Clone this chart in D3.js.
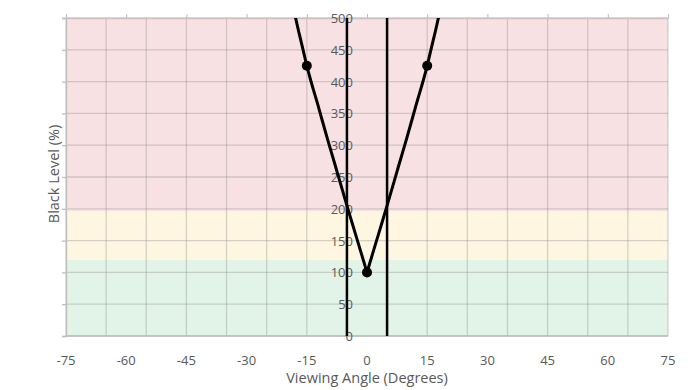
<!DOCTYPE html>
<html>
<head>
<meta charset="utf-8">
<script src="https://cdn.jsdelivr.net/npm/d3@7"></script>
<style>
  body { margin: 0; background: #fff; }
  svg text { font-family: "Open Sans", "DejaVu Sans", sans-serif; fill: #595959; }
</style>
</head>
<body>
<div id="chart"></div>
<script>
var width = 694, height = 390;
var margin = { top: 18, right: 26, bottom: 54, left: 66 };

// x tick labels and y tick labels
var xTicks = [-75, -60, -45, -30, -15, 0, 15, 30, 45, 60, 75];
var yTicks = [0, 50, 100, 150, 200, 250, 300, 350, 400, 450, 500];
var xGrid = [-75, -65, -55, -45, -35, -25, -15, -5, 5, 15, 25, 35, 45, 55, 65, 75];

// coloured zones (black level %)
var zoneNames = ["good", "ok", "bad"];
var zoneLow = [0, 120, 196];
var zoneHigh = [120, 196, 500];
var zoneColors = ["#e2f4e7", "#fff6e1", "#f8e1e3"];

// fitted curve, left and right branch
var leftAngle = [-18, -17, -16, -15, -12, -10, -8, -5, -3, 0];
var leftLevel = [506, 478, 452, 425, 358, 313, 270, 205, 163, 100];
var rightAngle = [0, 3, 5, 8, 10, 12, 15, 16, 17, 18];
var rightLevel = [100, 163, 205, 270, 313, 358, 425, 452, 478, 506];

// measured points
var pointAngle = [-15, 0, 15];
var pointLevel = [425, 100, 425];

// vertical reference lines
var refAngle = [-5, 5];

var w = width - margin.left - margin.right;
var h = height - margin.top - margin.bottom;

var svg = d3.select("#chart").append("svg")
  .attr("width", width)
  .attr("height", height);

var g = svg.append("g").attr("transform", "translate(" + margin.left + "," + margin.top + ")");

var xScale = d3.scaleLinear().domain([-75, 75]).range([0, w]);
var yScale = d3.scaleLinear().domain([0, 500]).range([h, 0]);

g.append("clipPath").attr("id", "plotclip")
  .append("rect").attr("width", w).attr("height", h);

// zones
g.selectAll(".zone").data(zoneNames).enter().append("rect")
  .attr("class", "zone")
  .attr("x", 0)
  .attr("width", w)
  .attr("y", function(d, i) { return yScale(zoneHigh[i]); })
  .attr("height", function(d, i) { return yScale(zoneLow[i]) - yScale(zoneHigh[i]); })
  .style("fill", function(d, i) { return zoneColors[i]; });

// grid
g.selectAll(".vgrid").data(xGrid).enter().append("line")
  .attr("x1", function(d) { return xScale(d); })
  .attr("x2", function(d) { return xScale(d); })
  .attr("y1", 0).attr("y2", h)
  .style("stroke", "rgba(140,140,140,0.36)")
  .style("stroke-width", 1.3);

g.selectAll(".hgrid").data(yTicks).enter().append("line")
  .attr("x1", 0).attr("x2", w)
  .attr("y1", function(d) { return yScale(d); })
  .attr("y2", function(d) { return yScale(d); })
  .style("stroke", "rgba(140,140,140,0.36)")
  .style("stroke-width", 1.3);

// left axis line + ticks
var yAxis = g.append("g")
  .call(d3.axisLeft(yScale).tickValues(yTicks).tickSize(4).tickFormat(""));
yAxis.select(".domain").attr("stroke", "#bdbdbd").attr("stroke-width", 1.3);
yAxis.selectAll(".tick line").attr("stroke", "#bdbdbd").attr("stroke-width", 1.3);

// top axis line + ticks
var topAxis = g.append("g")
  .call(d3.axisTop(xScale).tickValues(xTicks).tickSize(4).tickSizeOuter(0).tickFormat(""));
topAxis.select(".domain").attr("stroke", "#cbbfc1").attr("stroke-width", 1.3);
topAxis.selectAll(".tick line").attr("stroke", "#bdbdbd").attr("stroke-width", 1);

// bottom line
g.append("line")
  .attr("x1", 0).attr("x2", w).attr("y1", h).attr("y2", h)
  .style("stroke", "#bdbdbd").style("stroke-width", 1.3);

// x tick labels
g.selectAll(".xlab").data(xTicks).enter().append("text")
  .attr("x", function(d) { return xScale(d); })
  .attr("y", h + 29)
  .attr("text-anchor", "middle")
  .style("font-size", "13px")
  .text(function(d) { return d; });

// y tick labels, next to the 0 line
g.selectAll(".ylab").data(yTicks).enter().append("text")
  .attr("x", xScale(0) - 14)
  .attr("y", function(d) { return yScale(d) + 5; })
  .attr("text-anchor", "end")
  .style("font-size", "13px")
  .text(function(d) { return d; });

// axis titles
svg.append("text")
  .attr("x", margin.left + xScale(0))
  .attr("y", 383)
  .attr("text-anchor", "middle")
  .style("font-size", "14.5px")
  .text("Viewing Angle (Degrees)");

svg.append("text")
  .attr("transform", "translate(59," + (margin.top + h / 2 - 3) + ") rotate(-90)")
  .attr("text-anchor", "middle")
  .style("font-size", "14.5px")
  .text("Black Level (%)");

// reference lines
g.selectAll(".ref").data(refAngle).enter().append("line")
  .attr("x1", function(d) { return xScale(d); })
  .attr("x2", function(d) { return xScale(d); })
  .attr("y1", yScale(0)).attr("y2", yScale(500))
  .style("stroke", "#000")
  .style("stroke-width", 2.5);

// curve, one path per branch so the apex stays sharp
function branch(angles) {
  return d3.line()
    .x(function(d, i) { return xScale(angles[i]); })
    .y(function(d) { return yScale(d); })
    .curve(d3.curveMonotoneX);
}

g.append("path")
  .attr("clip-path", "url(#plotclip)")
  .attr("d", branch(leftAngle)(leftLevel))
  .style("fill", "none")
  .style("stroke", "#000")
  .style("stroke-width", 3);

g.append("path")
  .attr("clip-path", "url(#plotclip)")
  .attr("d", branch(rightAngle)(rightLevel))
  .style("fill", "none")
  .style("stroke", "#000")
  .style("stroke-width", 3);

g.selectAll(".pt").data(pointLevel).enter().append("circle")
  .attr("cx", function(d, i) { return xScale(pointAngle[i]); })
  .attr("cy", function(d) { return yScale(d); })
  .attr("r", 5)
  .style("fill", "#000");
</script>
</body>
</html>
